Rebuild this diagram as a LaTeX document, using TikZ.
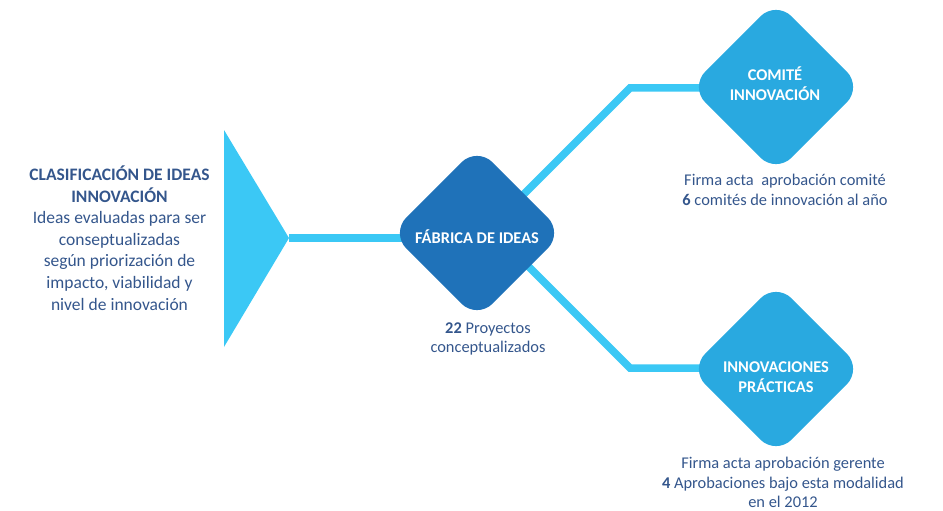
\documentclass[tikz,border=0pt]{standalone}
\usepackage{fontspec}
\setmainfont{Carlito}
\usetikzlibrary{shapes.geometric,calc}
\definecolor{cyanline}{RGB}{59,200,245}
\definecolor{darkdia}{RGB}{31,114,185}
\definecolor{lightdia}{RGB}{41,169,224}
\definecolor{txtblue}{RGB}{52,86,140}
\tikzset{
  dia/.style={diamond, aspect=1, minimum width=172pt, minimum height=172pt, inner sep=0pt, rounded corners=22pt, draw=none},
  conn/.style={draw=white, line width=0.8pt, double=cyanline, double distance=7.5pt, line join=miter},
  diatext/.style={text=white, font=\fontsize{16.4}{20}\selectfont\bfseries, align=center, inner sep=0pt},
  captext/.style={text=txtblue, font=\fontsize{16.4}{19.8}\selectfont, align=center, inner sep=0pt},
}
\begin{document}
\begin{tikzpicture}[x=1pt,y=-1pt]
\useasboundingbox (0,0) rectangle (943,511);
% coordinates
\coordinate (tip) at (289,238);
\coordinate (b1) at (630,88);
\coordinate (b2) at (630,368);
\coordinate (s1) at ($(b1)+(-150,150)$);
\coordinate (s2) at ($(b2)+(-150,-150)$);
% diamonds (shapes only, for anchors)
\path (477,233) node[dia] (fab) {};
\path (776,87) node[dia] (com) {};
\path (776,369) node[dia] (inn) {};
% connectors
\draw[conn] (s1) -- (b1) -- (b1 -| com.center);
\draw[conn] (s2) -- (b2) -- (b2 -| inn.center);
\draw[conn] (tip) -- (tip -| fab.center);
% triangle
\fill[cyanline] (224,130) -- (tip) -- (224,347) -- cycle;
% diamonds filled
\fill[darkdia, rounded corners=22pt] (fab.north) -- (fab.east) -- (fab.south) -- (fab.west) -- cycle;
\fill[lightdia, rounded corners=22pt] (com.north) -- (com.east) -- (com.south) -- (com.west) -- cycle;
\fill[lightdia, rounded corners=22pt] (inn.north) -- (inn.east) -- (inn.south) -- (inn.west) -- cycle;
% diamond texts
\node[diatext] (fabt) at (477,237) {FÁBRICA DE IDEAS};
\node[diatext] (comt) at (775,84) {COMITÉ\\INNOVACIÓN};
\node[diatext] (innt) at (776,377) {INNOVACIONES\\PRÁCTICAS};
% captions
\node[captext] (fabc) at (488,339) {\textbf{22} Proyectos\\conceptualizados};
\node[captext] (comc) at (785,190) {Firma acta\ \ aprobación comité\\\textbf{6} comités de innovación al año};
\node[captext] (innc) at (783,482.5) {Firma acta aprobación gerente\\\textbf{4} Aprobaciones bajo esta modalidad\\en el 2012};
% left text
\node[text=txtblue, font=\fontsize{17.5}{21.6}\selectfont, align=center, inner sep=0pt] (left) at (119.5,238)
  {\textbf{CLASIFICACIÓN DE IDEAS}\\\textbf{INNOVACIÓN}\\Ideas evaluadas para ser\\conseptualizadas\\según priorización de\\impacto, viabilidad y\\nivel de innovación};
\end{tikzpicture}
\end{document}
